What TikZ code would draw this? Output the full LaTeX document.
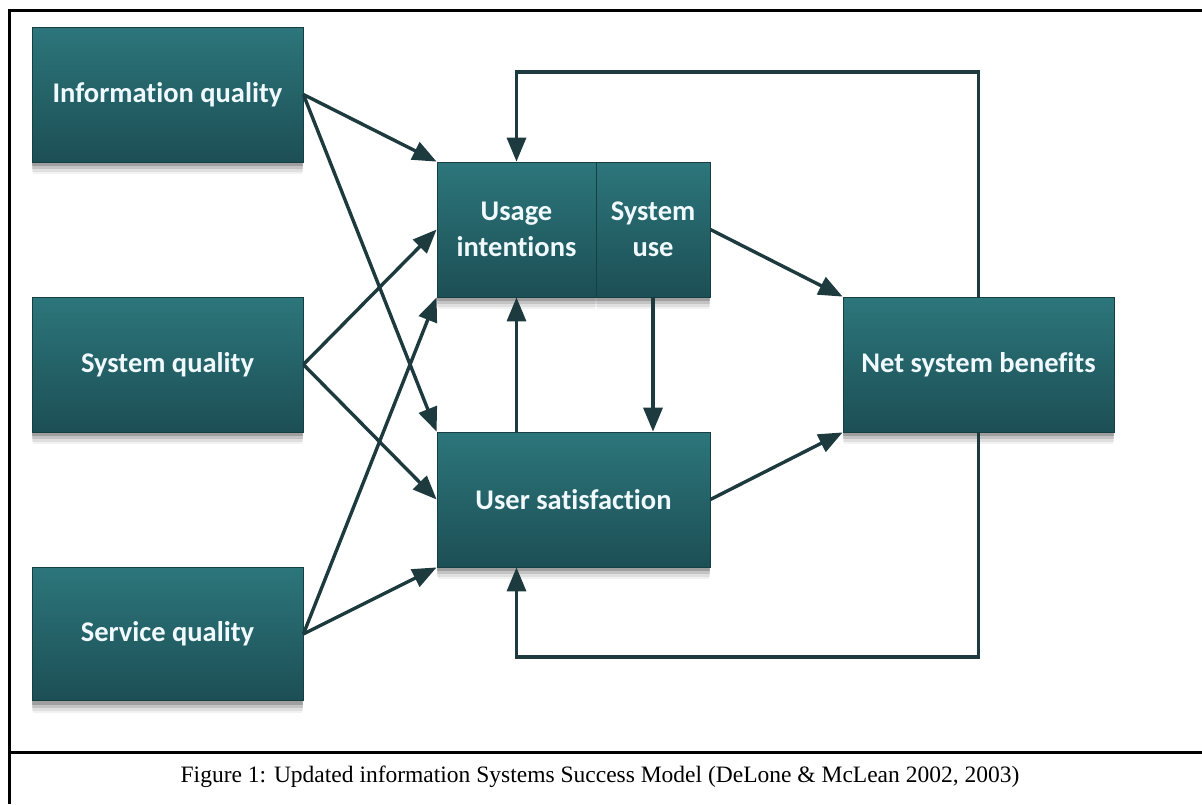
\documentclass[tikz,border=0pt]{standalone}
\usepackage{fontspec}
\setmainfont{Liberation Serif}
\newfontfamily\boxfont[Ligatures=NoCommon,RawFeature={-liga;-clig;-dlig}]{Carlito}
\usetikzlibrary{arrows.meta,shadows,calc}

\definecolor{tealtop}{HTML}{2C767B}
\definecolor{tealbot}{HTML}{1C4F55}
\definecolor{tealedge}{HTML}{163F44}
\definecolor{arrowcol}{HTML}{1D3A3E}

\tikzset{
  model/.style={
    draw=tealedge, line width=0.8pt,
    top color=tealtop, bottom color=tealbot,
    text=white!94!cyan, font=\boxfont\bfseries\fontsize{28.5}{36}\selectfont,
    align=center, inner sep=0pt,
    drop shadow={shadow xshift=0pt, shadow yshift=-13pt, shadow scale=0.99, opacity=0.05, fill=black},
    drop shadow={shadow xshift=0pt, shadow yshift=-10pt, opacity=0.08, fill=black},
    drop shadow={shadow xshift=0pt, shadow yshift=-7pt, opacity=0.12, fill=black},
    drop shadow={shadow xshift=0pt, shadow yshift=-4pt, opacity=0.18, fill=black}
  },
  link/.style={draw=arrowcol, line width=3.4pt,
    -{Triangle[length=24pt,width=19pt]}},
  frameline/.style={draw=black, line width=3pt}
}

\begin{document}
\begin{tikzpicture}[x=1pt,y=-1pt]
  \useasboundingbox (0,0) rectangle (1202,804);
  \fill[white] (0,0) rectangle (1202,804);

  % outer frame and caption rule
  \draw[frameline] (9,804) -- (9,10) -- (1204,10);
  \draw[frameline] (9,752) -- (1204,752);

  % boxes
  \node[model, minimum width=271pt, minimum height=135pt] (iq) at (167.5,94.5) {Information quality};
  \node[model, minimum width=271pt, minimum height=135pt] (sq) at (167.5,364.5) {System quality};
  \node[model, minimum width=271pt, minimum height=133pt] (svq) at (167.5,634) {Service quality};
  \node[model, minimum width=159pt, minimum height=135pt] (ui) at (516.5,229.5) {Usage\\intentions};
  \node[model, minimum width=114pt, minimum height=135pt] (su) at (653,229.5) {System\\use};
  \node[model, minimum width=273pt, minimum height=135pt] (us) at (573.5,499.5) {User satisfaction};
  \node[model, minimum width=271pt, minimum height=135pt] (nb) at (978.5,364.5) {Net system benefits};

  % levels of the feedback loops
  \coordinate (fbtop) at (0,72);
  \coordinate (fbbot) at (0,657);

  % quality dimensions
  \draw[link] (iq.east) -- (ui.north west);
  \draw[link] (iq.east) -- (us.north west);
  \draw[link] (sq.east) -- (ui.west);
  \draw[link] (sq.east) -- (us.west);
  \draw[link] (svq.east) -- (ui.south west);
  \draw[link] (svq.east) -- (us.south west);

  % use and satisfaction
  \draw[link] (us.north -| ui.south) -- (ui.south);
  \draw[link] (su.south) -- (su.south |- us.north);
  \draw[link] (su.east) -- (nb.north west);
  \draw[link] (us.east) -- (nb.south west);

  % feedback from net benefits
  \draw[link] (nb.north) |- (ui.north |- fbtop) -- (ui.north);
  \draw[link] (nb.south) |- (ui.south |- fbbot) -- (us.south -| ui.south);

  % caption
  \node[font=\fontsize{23.5}{28}\selectfont] (cap) at (600,777)
    {Figure 1: Updated information Systems Success Model (DeLone \& McLean 2002, 2003)};
\end{tikzpicture}
\end{document}
